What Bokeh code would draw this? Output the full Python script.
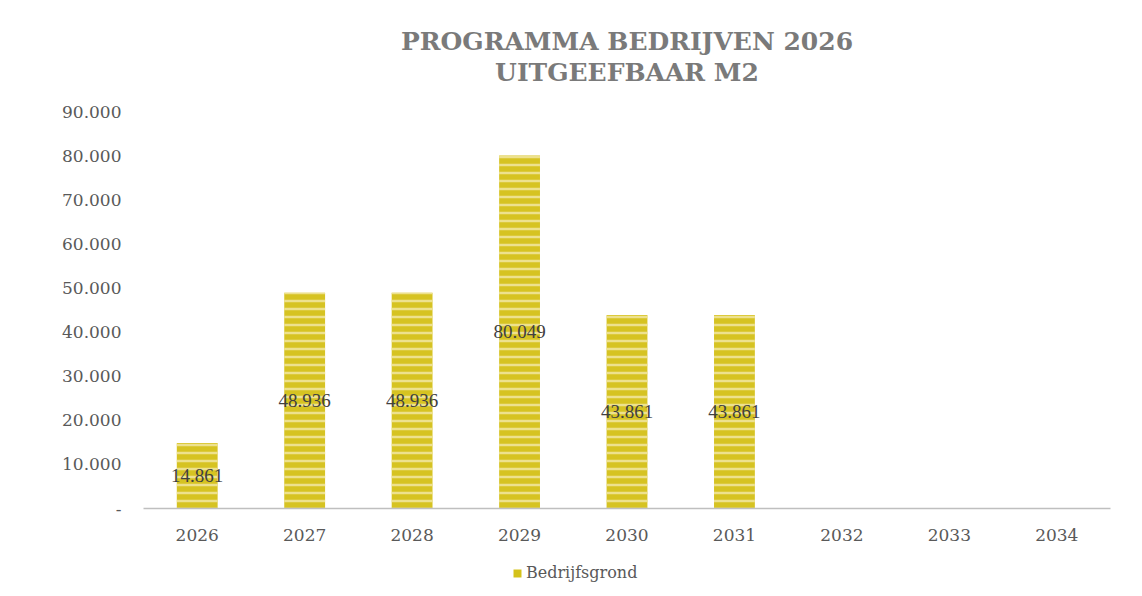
from bokeh.plotting import figure
from bokeh.layouts import column
from bokeh.models import ColumnDataSource, Range1d, LabelSet, Legend, LegendItem, Title, FixedTicker
from bokeh.embed import file_html
from bokeh.resources import INLINE

years = ["2026", "2027", "2028", "2029", "2030", "2031", "2032", "2033", "2034"]
values = [14861, 48936, 48936, 80049, 43861, 43861, 0, 0, 0]
series_name = "Bedrijfsgrond"
title_lines = ["PROGRAMMA BEDRIJVEN 2026", "UITGEEFBAAR M2"]
y_ticks = [0, 10000, 20000, 30000, 40000, 50000, 60000, 70000, 80000, 90000]


def fmt(v):
    return "-" if v == 0 else f"{v:,}".replace(",", ".")


src = ColumnDataSource(dict(
    x=years,
    top=values,
    mid=[v / 2 for v in values],
    label=[fmt(v) for v in values],
))

SERIF = "DejaVu Serif"
BAR_STYLE = dict(fill_color="#D6C322", line_color=None,
                 hatch_pattern="horizontal_line", hatch_color="#EFE49A",
                 hatch_scale=8, hatch_weight=2.5, hatch_alpha=0.9)

p = figure(width=1142, height=552, x_range=years, y_range=Range1d(0, 92500),
           output_backend="svg", toolbar_location=None,
           min_border_left=143, min_border_right=32, min_border_top=100, min_border_bottom=44)
p.background_fill_color = "white"
p.border_fill_color = "white"
p.outline_line_color = None
p.grid.grid_line_color = None

for i, t in enumerate(reversed(title_lines)):
    p.add_layout(Title(text=t, align="center", text_font=SERIF, text_font_size="25px",
                       text_font_style="bold", text_color="#7A7A7A",
                       standoff=(27 if i == 0 else -26), offset=0), "above")

bars = p.vbar(x="x", top="top", width=0.38, source=src, **BAR_STYLE)

labels = LabelSet(x="x", y="mid", text="label", source=src,
                  text_align="center", text_baseline="middle",
                  text_font=SERIF, text_font_size="19px", text_color="#404040")
p.add_layout(labels)

p.yaxis.ticker = FixedTicker(ticks=y_ticks)
p.yaxis.major_label_overrides = {t: fmt(t) for t in y_ticks}
p.yaxis.axis_line_color = None
p.yaxis.major_tick_line_color = None
p.yaxis.minor_tick_line_color = None
p.yaxis.major_label_text_font = SERIF
p.yaxis.major_label_text_font_size = "17px"
p.yaxis.major_label_text_color = "#595959"
p.yaxis.major_label_standoff = 16

p.xaxis.axis_line_color = "#BFBFBF"
p.xaxis.axis_line_width = 1.5
p.xaxis.major_tick_line_color = None
p.xaxis.minor_tick_line_color = None
p.xaxis.major_label_text_font = SERIF
p.xaxis.major_label_text_font_size = "17px"
p.xaxis.major_label_text_color = "#595959"
p.xaxis.major_label_standoff = 14

# Legend strip below the chart (its bars lie below its visible range)
lg = figure(width=1142, height=44, x_range=years, y_range=Range1d(1e7, 2e7),
            output_backend="svg", toolbar_location=None,
            min_border_left=0, min_border_right=0, min_border_top=0, min_border_bottom=0)
lg.axis.visible = False
lg.grid.grid_line_color = None
lg.outline_line_color = None
lg.background_fill_color = "white"
lg.border_fill_color = "white"
lg_bars = lg.vbar(x="x", top="top", width=0.38, source=src,
                  fill_color="#D4C21A", line_color=None)

legend = Legend(items=[LegendItem(label=series_name, renderers=[lg_bars])],
                orientation="horizontal", location=(369, 14),
                label_text_font=SERIF, label_text_font_size="16px",
                label_text_color="#595959", glyph_width=10, glyph_height=10,
                border_line_color=None, background_fill_alpha=0, margin=0, padding=4,
                label_standoff=4)
lg.add_layout(legend, "center")

layout = column(p, lg, spacing=0)
open("out.html", "w").write(file_html(layout, INLINE))
